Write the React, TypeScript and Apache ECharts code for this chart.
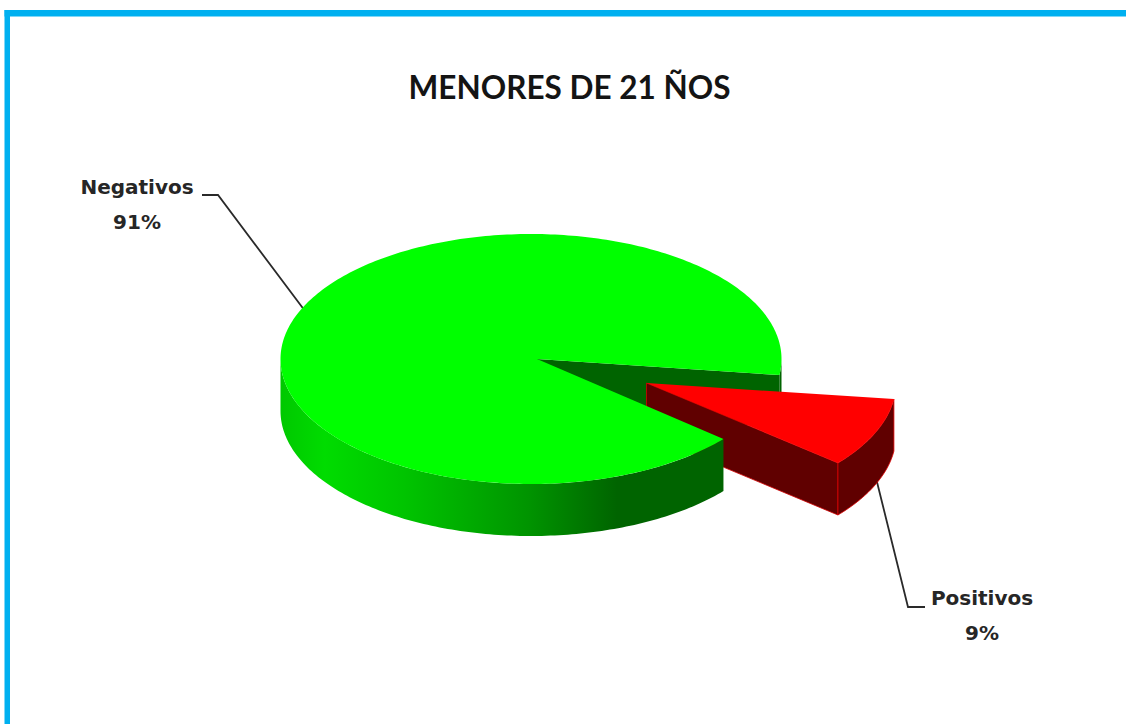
import React, { useEffect, useRef } from "react";
import * as echarts from "echarts";

const titleText = "MENORES DE 21 ÑOS";
const categories = ["Negativos", "Positivos"];
const values = [91, 9];

const CX = 531, CY = 359, RX = 250.5, RY = 125, DEPTH = 52;
const START_DEG = 7.4;
const APEX_SHIFT = 6;
const EXPLODE = [114.5, 24];
const RED_APEX_SHIFT = 1;
const rad = (d: number) => (d * Math.PI) / 180;

function rim(cx: number, cy: number, from: number, to: number, dy = 0) {
  const pts: number[][] = [];
  const n = Math.max(2, Math.ceil(Math.abs(to - from)));
  for (let i = 0; i <= n; i++) {
    const a = rad(from + ((to - from) * i) / n);
    pts.push([cx + RX * Math.cos(a), cy + RY * Math.sin(a) + dy]);
  }
  return pts;
}

const total = values.reduce((a, b) => a + b, 0);
const redSweep = (values[1] / total) * 360;
const redFrom = START_DEG;
const redTo = START_DEG + redSweep;
const greenFrom = redTo;
const greenTo = START_DEG + 360;

function renderItem(_params: any, api: any) {
  const idx = api.value(0);
  if (idx === 0) {
    const apex = [CX + APEX_SHIFT, CY];
    const rimPts = rim(CX, CY, greenFrom, greenTo);
    const upper = rimPts[rimPts.length - 1];
    const sideFront = rim(CX, CY, greenFrom, 180);
    const sideFrontLow = rim(CX, CY, 180, greenFrom, DEPTH);
    const sideRight = rim(CX, CY, 360, greenTo);
    const sideRightLow = rim(CX, CY, greenTo, 360, DEPTH);
    return {
      type: "group",
      children: [
        {
          type: "polygon", z2: 1,
          shape: { points: [apex, upper, [upper[0], upper[1] + DEPTH], [apex[0], apex[1] + DEPTH]] },
          style: { fill: "#006400" },
        },
        {
          type: "polygon", z2: 1,
          shape: { points: [...sideRight, ...sideRightLow] },
          style: { fill: "#006400" },
        },
        {
          type: "polygon", z2: 3,
          shape: { points: [...sideFront, ...sideFrontLow] },
          style: {
            fill: new echarts.graphic.LinearGradient(1, 0, 0, 0, [
              { offset: 0, color: "#006400" },
              { offset: 0.24, color: "#006400" },
              { offset: 0.44, color: "#009400" },
              { offset: 0.72, color: "#00C400" },
              { offset: 0.9, color: "#00DC00" },
              { offset: 1, color: "#00C800" },
            ]),
          },
        },
        {
          type: "polygon", z2: 4,
          shape: { points: [apex, ...rimPts] },
          style: { fill: "#00FF00" },
        },
      ],
    };
  }
  const cx = CX + EXPLODE[0], cy = CY + EXPLODE[1];
  const apex = [cx + RED_APEX_SHIFT, cy];
  const top = rim(cx, cy, redFrom, redTo);
  const lower = top[top.length - 1];
  return {
    type: "group",
    children: [
      {
        type: "polygon", z2: 2,
        shape: { points: [apex, lower, [lower[0], lower[1] + DEPTH], [apex[0], apex[1] + DEPTH]] },
        style: { fill: "#600000", stroke: "#d00000", lineWidth: 0.8 },
      },
      {
        type: "polygon", z2: 2,
        shape: { points: [...top, ...rim(cx, cy, redTo, redFrom, DEPTH)] },
        style: { fill: "#600000", stroke: "#e00000", lineWidth: 0.8 },
      },
      {
        type: "polygon", z2: 2,
        shape: { points: [apex, ...top] },
        style: { fill: "#FF0000" },
      },
    ],
  };
}

const labelStyle = {
  fontFamily: "'DejaVu Sans'",
  fontWeight: "bold",
  fontSize: 20,
  fill: "#262626",
  align: "center",
  verticalAlign: "middle",
  lineHeight: 35,
};

export default function App() {
  const ref = useRef<HTMLDivElement>(null);
  useEffect(() => {
    document.body.style.margin = "0";
    const chart = echarts.init(ref.current!, undefined, { renderer: "svg" });
    chart.setOption({
      animation: false,
      backgroundColor: "#ffffff",
      title: {
        text: titleText,
        left: 564.5,
        top: 66,
        textAlign: "center",
        textStyle: { fontFamily: "Lato", fontWeight: "bold", fontSize: 31.5, color: "#141414" },
      },
      graphic: [
        { type: "rect", shape: { x: 4.5, y: 10, width: 1122, height: 6.5 }, style: { fill: "#00B0F0" } },
        { type: "rect", shape: { x: 4.5, y: 10, width: 5.5, height: 714 }, style: { fill: "#00B0F0" } },
        {
          type: "polyline",
          shape: { points: [[202, 195], [218, 195], [305, 311]] },
          style: { stroke: "#2a2a2a", lineWidth: 1.8, fill: "none" },
        },
        {
          type: "polyline",
          shape: { points: [[877, 482], [908, 607], [925, 607]] },
          style: { stroke: "#2a2a2a", lineWidth: 1.8, fill: "none" },
        },
        {
          type: "text",
          x: 137, y: 204,
          style: { ...labelStyle, text: `${categories[0]}\n${values[0]}%` },
        },
        {
          type: "text",
          x: 982, y: 615,
          style: { ...labelStyle, text: `${categories[1]}\n${values[1]}%` },
        },
      ],
      series: [
        {
          type: "custom",
          coordinateSystem: "none",
          renderItem,
          z: 5,
          data: categories.map((c, i) => ({ name: c, value: [i, values[i]] })),
        },
      ],
    });
    return () => chart.dispose();
  }, []);
  return <div ref={ref} style={{ position: "absolute", left: 0, top: 0, width: 1126, height: 724 }} />;
}
